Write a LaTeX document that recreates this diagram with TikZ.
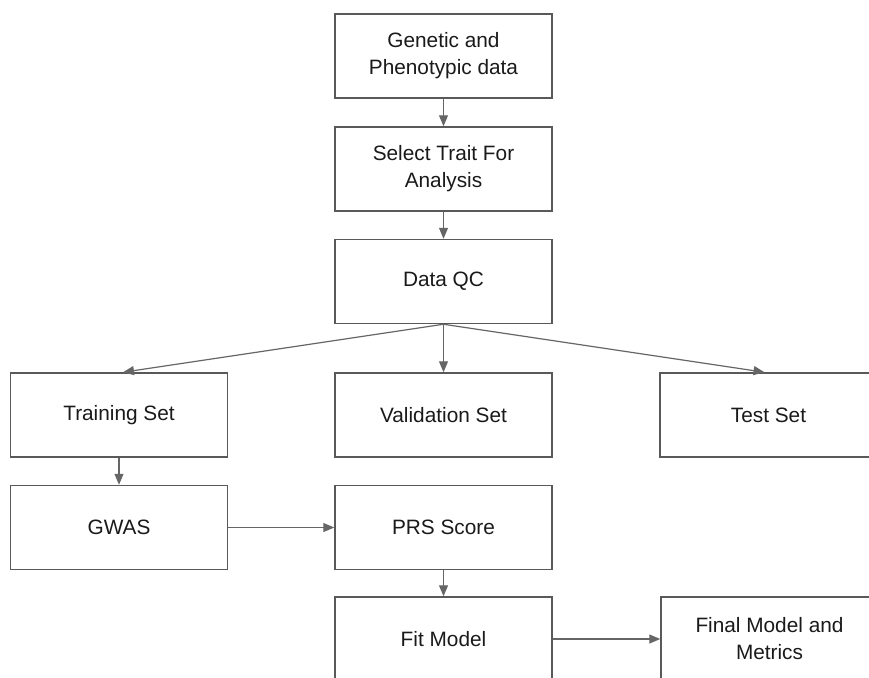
\documentclass[tikz,border=0pt]{standalone}
\usepackage{fontspec}
\setmainfont{Liberation Sans}
\usetikzlibrary{arrows.meta}
\definecolor{boxline}{HTML}{595959}
\definecolor{arrowline}{HTML}{666666}
\definecolor{labeltext}{HTML}{1A1A1A}
\begin{document}
\begin{tikzpicture}[x=1pt,y=-1pt,
  stage/.style={draw=boxline, line width=1.5pt, fill=white, rectangle,
    minimum width=217pt, minimum height=84pt, inner sep=0pt,
    align=center, text=labeltext, font=\fontsize{20.8}{27}\selectfont},
  flow/.style={draw=arrowline, line width=1.2pt,
    -{Triangle[length=11pt,width=9pt]}}]
\useasboundingbox (0,0) rectangle (869,677);
\clip (0,0) rectangle (869,677);
\fill[white] (0,0) rectangle (869,677);

\node[stage] (data)  at (443.5,56)    {Genetic and\\Phenotypic data};
\node[stage] (trait) at (443.5,169)   {Select Trait For\\Analysis};
\node[stage] (qc)    at (443.5,281.5) {Data QC};
\node[stage] (train) at (119,415)     {Training Set};
\node[stage] (valid) at (443.5,415)   {Validation Set};
\node[stage] (test)  at (768.5,415)   {Test Set};
\node[stage] (gwas)  at (119,527.5)   {GWAS};
\node[stage] (prs)   at (443.5,527.5) {PRS Score};
\node[stage] (fit)   at (443.5,639)   {Fit Model};
\node[stage] (final) at (769.5,639)   {Final Model and\\Metrics};

\draw[flow] (data) -- (trait);
\draw[flow] (trait) -- (qc);
\draw[flow] (qc.south) -- ([xshift=4pt]train.north);
\draw[flow] (qc.south) -- (valid.north);
\draw[flow] (qc.south) -- ([xshift=-4pt]test.north);
\draw[flow] (train) -- (gwas);
\draw[flow] (gwas) -- (prs);
\draw[flow] (prs) -- (fit);
\draw[flow] (fit) -- (final);
\end{tikzpicture}
\end{document}
